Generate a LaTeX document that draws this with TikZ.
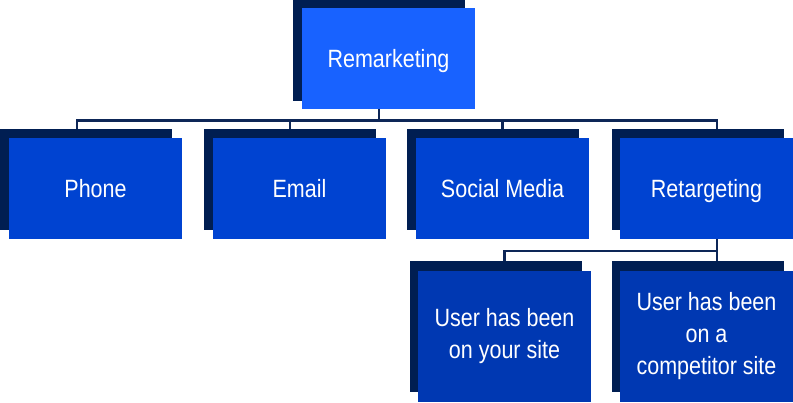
\documentclass[tikz,border=0pt]{standalone}
\usepackage{fontspec}
\setmainfont{Liberation Sans}[FakeStretch=0.86]
\usetikzlibrary{calc}
\definecolor{navy}{HTML}{001E52}
\definecolor{rootblue}{HTML}{1862FF}
\definecolor{childblue}{HTML}{0043D1}
\definecolor{gcblue}{HTML}{0038B2}
\definecolor{linecol}{HTML}{0D2657}
\pgfdeclarelayer{bg}
\pgfsetlayers{bg,main}
\begin{document}
\begin{tikzpicture}[x=1pt,y=-1pt,
  shadowbox/.style={fill=navy,inner sep=0pt,minimum width=172pt,minimum height=101pt},
  frontbox/.style={inner sep=0pt,minimum width=173pt,minimum height=101pt,text=white,
    font=\fontsize{25}{32}\selectfont,align=center},
  oneline/.style={text height=18pt,text depth=0pt},
  tallbox/.style={minimum height=131pt},
  conn/.style={draw=linecol,line width=2.5pt}]
\useasboundingbox (0,0) rectangle (793,402);
% root
\node[shadowbox] (rootS) at (379,50.5) {};
\node[frontbox,oneline,fill=rootblue] (rootF) at (388.5,58.5) {Remarketing};
% children
\node[shadowbox] (phoneS) at (86,179.5) {};
\node[frontbox,oneline,fill=childblue] (phoneF) at (95.5,188.5) {Phone};
\node[shadowbox] (emailS) at (290,179.5) {};
\node[frontbox,oneline,fill=childblue] (emailF) at (299.5,188.5) {Email};
\node[shadowbox] (socialS) at (493,179.5) {};
\node[frontbox,oneline,fill=childblue] (socialF) at (502.5,188.5) {Social Media};
\node[shadowbox] (retS) at (698,179.5) {};
\node[frontbox,oneline,fill=childblue] (retF) at (706.5,188.5) {Retargeting};
% grandchildren
\node[shadowbox,tallbox] (gc1S) at (495.5,326.5) {};
\node[frontbox,tallbox,fill=gcblue] (gc1F) at (504.5,336.5) {User has been\\on your site};
\node[shadowbox,tallbox] (gc2S) at (698,326.5) {};
\node[frontbox,tallbox,fill=gcblue] (gc2F) at (706.5,336.5) {User has been\\on a\\competitor site};
% connectors
\coordinate (hbar) at (0,120.5);
\coordinate (hbar2) at (0,251);
\coordinate (phoneTap) at ([xshift=77pt]phoneS.north west);
\coordinate (retTap) at ([xshift=105pt]retS.north west);
\coordinate (retDown) at ([xshift=105pt]retS.south west);
\coordinate (gc2Tap) at ([xshift=105pt]gc2S.north west);
\begin{pgfonlayer}{bg}
\draw[conn] (phoneTap) -- (phoneTap |- hbar) -- (retTap |- hbar) -- (retTap);
\draw[conn] (rootS.south) -- (rootS.south |- hbar);
\draw[conn] (emailS.north |- hbar) -- (emailS.north);
\draw[conn] (socialF.north |- hbar) -- (socialF.north);
\draw[conn] (retDown) -- (gc2Tap);
\draw[conn] (gc1F.north) -- (gc1F.north |- hbar2) -- (retDown |- hbar2);
\end{pgfonlayer}
\end{tikzpicture}
\end{document}
